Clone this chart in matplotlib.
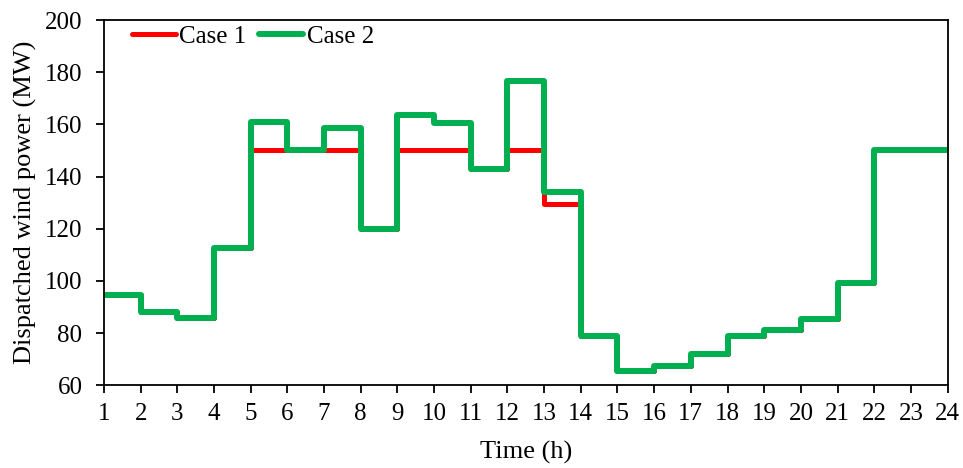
import numpy as np
import matplotlib
matplotlib.use("Agg")
import matplotlib.pyplot as plt

plt.rcParams["font.family"] = ["Liberation Serif", "DejaVu Serif"]

# 每小時調度風電 (MW)，最後一點重複以畫出 23-24 段
hours = list(range(1, 25))
case1 = [94.5, 88.0, 85.7, 112.5, 150, 150, 150, 120, 150, 150, 143, 150,
         129.5, 79, 65.5, 67.5, 72, 79, 81, 85.5, 99, 150, 150, 150]
case2 = [94.5, 88.0, 85.7, 112.5, 161, 150, 158.5, 120, 163.5, 160.5, 143, 176.5,
         134, 79, 65.5, 67.5, 72, 79, 81, 85.5, 99, 150, 150, 150]

RED = "#FF0000"
GREEN = "#00B050"

fig = plt.figure(figsize=(9.63, 4.68), dpi=100)
ax = fig.add_axes([0.108, 0.177, 0.876, 0.780])

ax.step(hours, case1, where="post", color=RED, lw=3.6, label="Case 1",
        solid_joinstyle="round", solid_capstyle="round")
ax.step(hours, case2, where="post", color=GREEN, lw=4.3, label="Case 2",
        solid_joinstyle="round", solid_capstyle="round")

ax.set_xlim(1, 24)
ax.set_ylim(60, 200)
ax.set_xticks(hours)
ax.set_yticks(np.arange(60, 201, 20))
ax.tick_params(axis="both", direction="out", length=5.5, width=1.3, labelsize=18)
ax.tick_params(axis="x", pad=7)
ax.tick_params(axis="y", pad=10)
for sp in ax.spines.values():
    sp.set_linewidth(1.3)

ax.set_xlabel("Time (h)", fontsize=19, labelpad=12)
ax.set_ylabel("Dispatched wind power (MW)", fontsize=19, labelpad=6)

ax.legend(loc="upper left", ncol=2, frameon=False, fontsize=18,
          handlelength=1.75, handletextpad=0.15, columnspacing=0.5,
          borderaxespad=0.0, borderpad=0.0, bbox_to_anchor=(0.033, 0.985))

fig.savefig("out.png", dpi=100)
